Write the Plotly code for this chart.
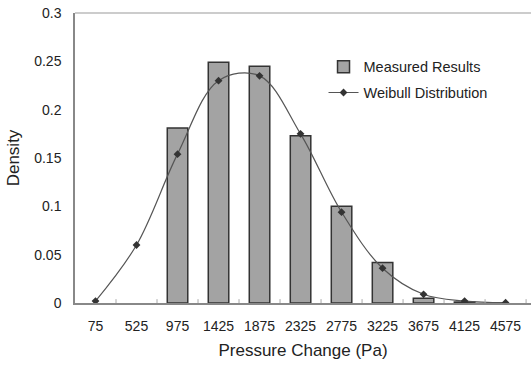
import plotly.graph_objects as go

categories = ["75", "525", "975", "1425", "1875", "2325", "2775", "3225", "3675", "4125", "4575"]
measured = [None, None, 0.181, 0.249, 0.245, 0.173, 0.100, 0.042, 0.005, 0.001, None]
weibull = [0.002, 0.060, 0.154, 0.230, 0.235, 0.175, 0.094, 0.036, 0.009, 0.002, 0.0003]
y_ticks = [0, 0.05, 0.1, 0.15, 0.2, 0.25, 0.3]
y_tick_labels = ["0", "0.05", "0.1", "0.15", "0.2", "0.25", "0.3"]

idx = list(range(len(categories)))

fig = go.Figure()
fig.add_trace(go.Bar(
    x=idx, y=measured, name="Measured Results", width=0.5, legendgroup="a",
    marker=dict(color="#a3a3a3", line=dict(color="#333333", width=1.5)),
))
fig.add_trace(go.Scatter(
    x=idx, y=weibull, name="Weibull Distribution", mode="lines+markers", legendgroup="b",
    line=dict(color="#555555", width=1.2, shape="spline", smoothing=1.0),
    marker=dict(symbol="diamond", size=6, color="#333333"),
))

font = "Liberation Sans, Arial, sans-serif"
fig.update_layout(
    width=531, height=370,
    margin=dict(l=75, r=0, t=13, b=67),
    paper_bgcolor="white", plot_bgcolor="white",
    font=dict(family=font, size=14, color="#222222"),
    showlegend=True,
    legend=dict(x=0.545, y=0.87, xanchor="left", yanchor="top",
                bgcolor="rgba(0,0,0,0)", font=dict(size=14.5, color="#222222"),
                itemwidth=30, tracegroupgap=4),
    bargap=0.5,
)
fig.update_xaxes(
    range=[-0.5, 10.62], tickmode="array", tickvals=idx, ticktext=categories,
    showline=True, linecolor="#888888", linewidth=1.5, showgrid=False, zeroline=False,
    ticks="", tickfont=dict(size=14), ticklabelstandoff=9,
    title=dict(text="Pressure Change (Pa)", font=dict(size=17), standoff=12),
    mirror=False,
)
fig.update_yaxes(
    range=[0, 0.3], tickmode="array", tickvals=y_ticks, ticktext=y_tick_labels,
    showline=True, linecolor="#888888", linewidth=1.5, showgrid=False, zeroline=False,
    ticks="", tickfont=dict(size=14), ticklabelstandoff=9,
    title=dict(text="Density", font=dict(size=17), standoff=10),
)
# top border of plot area
fig.add_shape(type="line", xref="paper", yref="paper", x0=0, x1=1, y0=1, y1=1,
              line=dict(color="#bbbbbb", width=1.5))
# small inside tick marks at category boundaries
for b in range(len(categories)):
    fig.add_shape(type="line", xref="x", yref="y", x0=b + 0.5, x1=b + 0.5, y0=0, y1=0.004,
                  line=dict(color="#aaaaaa", width=1))

fig.write_html("out.html")
